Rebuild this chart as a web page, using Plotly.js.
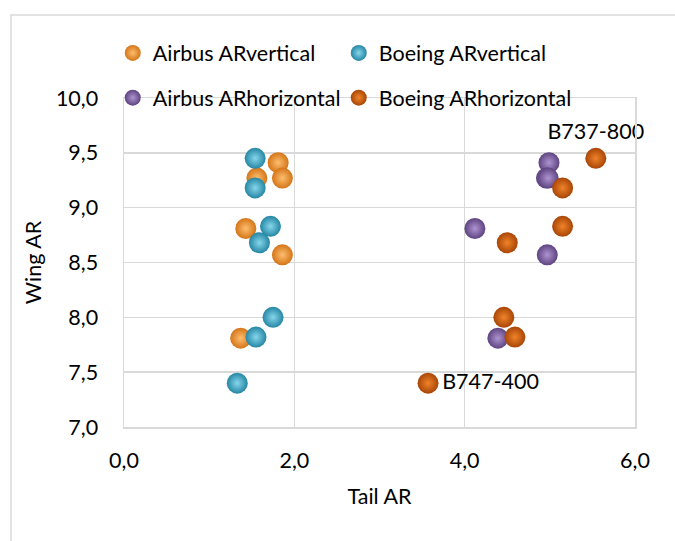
<!DOCTYPE html>
<html>
<head>
<meta charset="utf-8">
<script src="https://cdn.plot.ly/plotly-3.0.1.min.js"></script>
<style>html,body{margin:0;padding:0;background:#fff;}#chart{width:675px;height:541px;}</style>
</head>
<body>
<div id="chart"></div>
<script>
// Airbus – vertical tail aspect ratio vs wing aspect ratio
const airbusVertX = [1.81, 1.56, 1.86, 1.43, 1.86, 1.37];
const airbusVertY = [9.41, 9.27, 9.27, 8.81, 8.57, 7.81];
// Airbus – horizontal tail aspect ratio
const airbusHorX = [4.99, 4.96, 4.98, 4.12, 4.97, 4.39];
const airbusHorY = [9.41, 9.27, 9.27, 8.81, 8.57, 7.81];
// Boeing – vertical tail aspect ratio
const boeingVertX = [1.54, 1.54, 1.72, 1.59, 1.75, 1.55, 1.33];
const boeingVertY = [9.45, 9.18, 8.83, 8.68, 8.00, 7.82, 7.40];
// Boeing – horizontal tail aspect ratio
const boeingHorX = [5.54, 5.15, 5.15, 4.50, 4.46, 4.59, 3.57];
const boeingHorY = [9.45, 9.18, 8.83, 8.68, 8.00, 7.82, 7.40];
const boeingHorLabels = ['B737-800', '', '', '', '', '', 'B747-400'];
const boeingHorLabelPos = ['top center', 'middle right', 'middle right', 'middle right', 'middle right', 'middle right', 'middle right'];

const seriesNames = ['Airbus ARvertical', 'Airbus ARhorizontal', 'Boeing ARvertical', 'Boeing ARhorizontal'];

const FONT = 'Lato, "Liberation Sans", sans-serif';
const FS = 21.5;

function sphere(edge, center) {
  return {size: 21, color: edge, gradient: {type: 'radial', color: center}, line: {width: 0}};
}

const traces = [
  {type: 'scatter', mode: 'markers', name: seriesNames[0], x: airbusVertX, y: airbusVertY,
   marker: sphere('#D47518', '#FDBE6E'), legend: 'legend', cliponaxis: false},
  {type: 'scatter', mode: 'markers', name: seriesNames[1], x: airbusHorX, y: airbusHorY,
   marker: sphere('#5E4381', '#AE94D0'), legend: 'legend2', cliponaxis: false},
  {type: 'scatter', mode: 'markers', name: seriesNames[2], x: boeingVertX, y: boeingVertY,
   marker: sphere('#2586A3', '#86D6EC'), legend: 'legend', legendwidth: 240, cliponaxis: false},
  {type: 'scatter', mode: 'markers+text', name: seriesNames[3], x: boeingHorX, y: boeingHorY,
   text: boeingHorLabels, textposition: boeingHorLabelPos, cliponaxis: false,
   textfont: {family: FONT, size: FS, color: '#000'}, legendwidth: 240,
   marker: sphere('#A84607', '#F0832A'), legend: 'legend2'}
];

const legendCommon = {
  orientation: 'h', xanchor: 'left', yanchor: 'middle',
  entrywidth: 181, entrywidthmode: 'pixels',
  font: {family: FONT, size: FS, color: '#000'},
  bgcolor: 'rgba(0,0,0,0)', borderwidth: 0, traceorder: 'normal'
};

const layout = {
  width: 675, height: 541,
  margin: {l: 124, r: 40, t: 98, b: 114, pad: 0},
  paper_bgcolor: '#ffffff', plot_bgcolor: '#ffffff',
  separators: ', ',
  font: {family: FONT, size: FS, color: '#000'},
  showlegend: true,
  legend: Object.assign({x: -0.022, y: 1.137}, legendCommon),
  legend2: Object.assign({x: -0.022, y: 1.001}, legendCommon),
  xaxis: {
    range: [0, 6], dtick: 2, tick0: 0, tickformat: '.1f',
    showgrid: true, gridcolor: '#d9d9d9', gridwidth: 1.5,
    showline: true, linecolor: '#d9d9d9', linewidth: 1.5, mirror: true,
    zeroline: false, ticks: '', ticklabelstandoff: 14,
    tickfont: {family: FONT, size: FS, color: '#000'},
    title: {text: 'Tail AR', font: {family: FONT, size: FS, color: '#000'}, standoff: 16},
    automargin: false, fixedrange: true
  },
  yaxis: {
    range: [7, 10], dtick: 0.5, tick0: 7, tickformat: '.1f',
    showgrid: true, gridcolor: '#d9d9d9', gridwidth: 1.5,
    showline: true, linecolor: '#d9d9d9', linewidth: 1.5, mirror: true,
    zeroline: false, ticks: '', ticklabelstandoff: 20,
    tickfont: {family: FONT, size: FS, color: '#000'},
    title: {text: 'Wing AR', font: {family: FONT, size: FS, color: '#000'}, standoff: 8},
    automargin: false, fixedrange: true
  },
  shapes: [{
    type: 'rect', xref: 'paper', yref: 'paper', layer: 'below',
    x0: (11 - 124) / 511, x1: (720 - 124) / 511,
    y0: (427 - 600) / 329, y1: (427 - 15) / 329,
    line: {color: '#d9d9d9', width: 1.5}, fillcolor: 'rgba(0,0,0,0)'
  }]
};

Plotly.newPlot('chart', traces, layout, {displayModeBar: false, staticPlot: true});
</script>
</body>
</html>
